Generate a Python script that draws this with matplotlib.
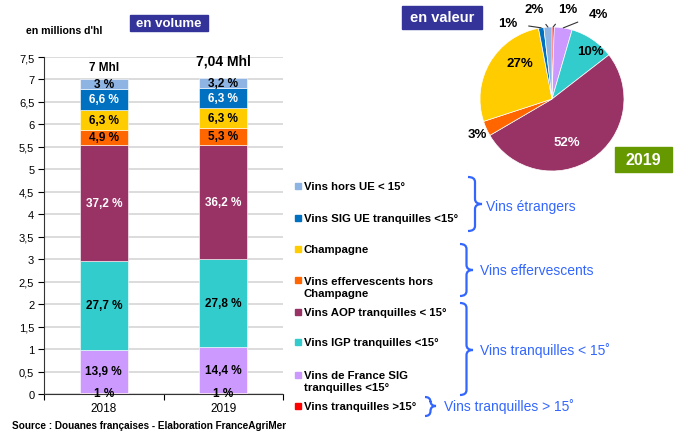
import numpy as np
import matplotlib
matplotlib.use("Agg")
from matplotlib import pyplot as plt
from matplotlib.path import Path
from matplotlib.patches import PathPatch, Rectangle

plt.rcParams["font.family"] = ["Liberation Sans", "DejaVu Sans"]

# data: stacked segments from bottom to top (millions hl)
years = ["2018", "2019"]
segments = ["Vins tranquilles >15°", "Vins de France SIG\ntranquilles <15°",
            "Vins IGP tranquilles <15°", "Vins AOP tranquilles < 15°",
            "Vins effervescents hors\nChampagne", "Champagne",
            "Vins SIG UE tranquilles <15°", "Vins hors UE < 15°"]
colors = ["#ff0000", "#cc99ff", "#33cccc", "#993366",
          "#ff6600", "#ffcc00", "#0070c0", "#8eb4e3"]
vol_2018 = [0.03, 0.96, 1.96, 2.60, 0.33, 0.45, 0.46, 0.21]
vol_2019 = [0.03, 1.01, 1.97, 2.54, 0.37, 0.45, 0.44, 0.23]
pct_2018 = ["1 %", "13,9 %", "27,7 %", "37,2 %", "4,9 %", "6,3 %", "6,6 %", "3 %"]
pct_2019 = ["1 %", "14,4 %", "27,8 %", "36,2 %", "5,3 %", "6,3 %", "6,3 %", "3,2 %"]
totals = ["7 Mhl", "7,04 Mhl"]
white_labels = [3, 6]

# pie: value share 2019, same order, clockwise from top
val_2019 = [0.5, 4, 10, 52, 3.4, 27, 1.2, 1.8]
val_labels = ["1%", "4%", "10%", "52%", "3%", "27%", "1%", "2%"]

W, H = 683, 435
fig = plt.figure(figsize=(W / 100, H / 100), dpi=100)


def px(x, y):
    return x / W, 1 - y / H


def ftext(x, y, s, **kw):
    fx, fy = px(x, y)
    fig.text(fx, fy, s, **kw)


def box(x0, y0, x1, y1, color, s, size):
    fx0, fy1 = px(x0, y1)
    fig.patches.append(Rectangle((fx0, fy1), (x1 - x0) / W, (y1 - y0) / H,
                                 transform=fig.transFigure, color=color))
    ftext((x0 + x1) / 2, (y0 + y1) / 2, s, color="white", fontsize=size,
          fontweight="bold", ha="center", va="center")


def brace(x0, y0, y1, ym, w, color="#3366ff"):
    r = 5
    xm = x0 + w / 2
    pts = [(x0, y0), (xm, y0), (xm, y0 + r), (xm, ym - r), (xm, ym), (x0 + w, ym),
           (xm, ym), (xm, ym + r), (xm, y1 - r), (xm, y1), (x0, y1)]
    codes = [Path.MOVETO, Path.CURVE3, Path.CURVE3, Path.LINETO, Path.CURVE3, Path.CURVE3,
             Path.CURVE3, Path.CURVE3, Path.LINETO, Path.CURVE3, Path.CURVE3]
    p = Path([px(*q) for q in pts], codes)
    fig.patches.append(PathPatch(p, transform=fig.transFigure, fill=False,
                                 edgecolor=color, lw=1.6))


# ---- stacked bars ----
ax = fig.add_axes([44 / W, 40 / H, 239 / W, 337 / H])
x = np.array([0.5, 1.5])
data = np.array([vol_2018, vol_2019])
bottom = np.zeros(2)
for i in range(len(segments)):
    ax.bar(x, data[:, i], 0.4, bottom=bottom, color=colors[i],
           edgecolor="white", linewidth=0.4, zorder=3)
    for j, labs in enumerate([pct_2018, pct_2019]):
        ax.text(x[j], bottom[j] + data[j, i] / 2, labs[i], ha="center", va="center",
                fontsize=8.5, fontweight="bold",
                color="white" if i in white_labels else "black", zorder=4)
    bottom += data[:, i]

ax.text(x[0], 7.28, totals[0], ha="center", va="center", fontsize=8.5, fontweight="bold")
ax.text(x[1], 7.42, totals[1], ha="center", va="center", fontsize=10, fontweight="bold")

ax.set_xlim(0, 2)
ax.set_ylim(0, 7.5)
ax.set_yticks(np.arange(0, 7.51, 0.5))
ax.set_yticklabels([("%g" % v).replace(".", ",") for v in np.arange(0, 7.51, 0.5)])
ax.set_xticks([0, 1, 2])
ax.set_xticklabels([])
ax.set_xticks(x, minor=True)
ax.set_xticklabels(years, minor=True)
ax.tick_params(axis="x", which="minor", length=0, labelsize=8.5, pad=6)
ax.tick_params(axis="x", which="major", length=4, width=0.8)
ax.tick_params(axis="y", length=4, width=0.8, labelsize=8, pad=3)
ax.grid(axis="y", color="#d9d9d9", lw=1.3, zorder=0)
for s in ["top", "right"]:
    ax.spines[s].set_visible(False)
ax.spines["left"].set_color("#333333")
ax.spines["bottom"].set_color("#333333")

ftext(26, 31, "en millions d'hl", fontsize=7.6, fontweight="bold", va="center")
box(130, 16, 208, 32, "#333399", "en volume", 9.5)
ftext(12, 426, "Source : Douanes françaises - Elaboration FranceAgriMer",
      fontsize=7.2, fontweight="bold", va="center")

# ---- pie ----
pax = fig.add_axes([480 / W, 263 / H, 144 / W, 144 / H])
wedges, _ = pax.pie(val_2019, colors=colors, startangle=90, counterclock=False,
                    radius=1, wedgeprops=dict(edgecolor="white", linewidth=0.5))
pax.set_xlim(-1, 1)
pax.set_ylim(-1, 1)

inside = {3: (0.2, -0.6, "white"), 5: (-0.45, 0.5, "black"), 2: (0.53, 0.66, "black")}
for k, (tx, ty, c) in inside.items():
    pax.text(tx, ty, val_labels[k], ha="center", va="center", fontsize=9.5,
             fontweight="bold", color=c)

# outside labels with leader lines (text position in px)
outside = {4: (477, 135, False), 1: (598, 15, True), 0: (568, 10, True),
           7: (534, 10, True), 6: (508, 24, True)}
for k, (tx, ty, lead) in outside.items():
    w = wedges[k]
    ang = np.deg2rad((w.theta1 + w.theta2) / 2)
    fx, fy = px(tx, ty)
    if lead:
        pax.annotate(val_labels[k], xy=(np.cos(ang), np.sin(ang)),
                     xytext=(fx, fy), textcoords="figure fraction",
                     ha="center", va="center", fontsize=9.5, fontweight="bold",
                     arrowprops=dict(arrowstyle="-", color="#333333", lw=0.8,
                                     shrinkA=6, shrinkB=0),
                     annotation_clip=False)
    else:
        fig.text(fx, fy, val_labels[k], ha="center", va="center",
                 fontsize=9.5, fontweight="bold")

box(402, 7, 482, 30, "#333399", "en valeur", 10.5)
box(615, 148, 672, 173, "#669900", "2019", 11.5)

# ---- legend ----
leg_y = [407, 382, 343, 313, 288, 250, 219, 187]
for i in range(len(segments)):
    first = 376 if i == 1 else (281 if i == 4 else leg_y[i])
    fx, fy = px(295, first + 3)
    fig.patches.append(Rectangle((fx, fy), 6 / W, 6 / H, transform=fig.transFigure,
                                 color=colors[i]))
    fig.text(*px(304, leg_y[i]), segments[i], fontsize=8.2, fontweight="bold",
             va="center", linespacing=1.25)

blue = "#3366ff"
brace(468, 178, 232, 205, 14)
ftext(486, 207, "Vins étrangers", fontsize=10, color=blue, va="center")
brace(460, 245, 297, 271, 13)
ftext(480, 271, "Vins effervescents", fontsize=10, color=blue, va="center")
brace(460, 304, 396, 351, 13)
ftext(480, 351, "Vins tranquilles < 15˚", fontsize=10, color=blue, va="center")
brace(425, 398, 417, 407, 11)
ftext(444, 407, "Vins tranquilles > 15˚", fontsize=10, color=blue, va="center")

fig.savefig("out.png", dpi=100)
